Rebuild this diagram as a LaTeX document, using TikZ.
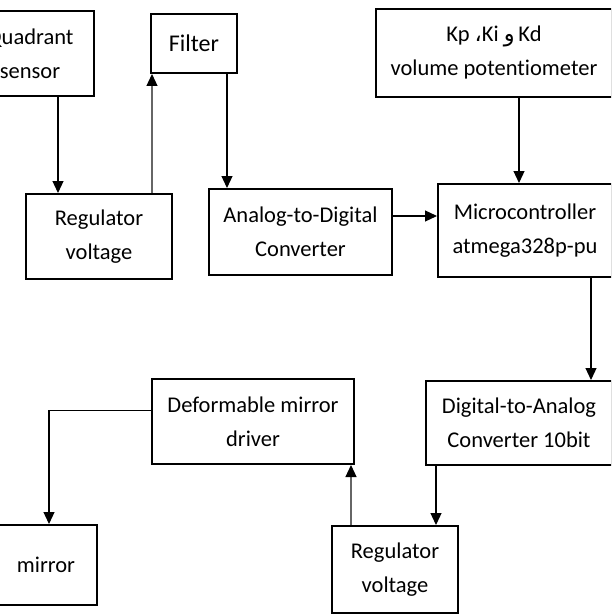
\documentclass[tikz,border=0pt]{standalone}
\usepackage{fontspec}
\setmainfont[Ligatures=NoCommon]{Carlito}
\newfontfamily\arabicfont[Script=Arabic]{DejaVu Sans}
\usetikzlibrary{arrows.meta}
\tikzset{blk/.style = {draw, line width=2pt, align=center, inner sep=0, font=\fontsize{22.5}{34}\selectfont}}
\tikzset{arr/.style = {line width=1.2pt, -{Triangle[width=11pt, length=12pt, color=black]}}}
\tikzset{arrg/.style = {arr, draw=black!60}}

\begin{document}
\begin{tikzpicture}[x=1pt, y=-1pt]
    \useasboundingbox (0, 0) rectangle (611, 615);
    \clip (0, 0) rectangle (611, 615);

    % upper row
    \node [blk, minimum width=128, minimum height=85] (quad) at (30, 53.5) {Quadrant\\sensor};
    \node [blk, minimum width=86, minimum height=59, font=\fontsize{24}{34}\selectfont] (filter) at (194, 43.5) {Filter};
    \node [blk, minimum width=236, minimum height=88] (kp) at (494, 53) {Kp {\arabicfont ،}Ki {\arabicfont و}\,Kd\\volume potentiometer};

    \node [blk, minimum width=146, minimum height=85] (reg1) at (99, 236.5) {Regulator\\voltage};
    \node [blk, minimum width=183, minimum height=86] (adc) at (300.5, 232) {Analog-to-Digital\\Converter};
    \node [blk, minimum width=174, minimum height=93] (mcu) at (525, 230.5) {Microcontroller\\atmega328p-pu};

    % lower row
    \node [blk, minimum width=202, minimum height=85] (dmd) at (253, 421.5) {Deformable mirror\\driver};
    \node [blk, minimum width=186, minimum height=84] (dac) at (519, 423) {Digital-to-Analog\\Converter 10bit};

    \node [blk, minimum width=102, minimum height=80] (mirror) at (46, 565) {mirror};
    \node [blk, minimum width=126, minimum height=87] (reg2) at (395, 569.5) {Regulator\\voltage};

    \draw [arr] ([xshift=28pt]quad.south) -- ([xshift=28pt]quad.south |- reg1.north);
    \draw [arrg] ([xshift=2pt]filter.south west |- reg1.north) -- ([xshift=2pt]filter.south west);
    \draw [arr] ([xshift=-11pt]filter.south east) -- ([xshift=-11pt]filter.south east |- adc.north);
    \draw [arr] ([yshift=16pt]adc.east) -- ([yshift=16pt]adc.east -| mcu.west);
    \draw [arr] ([xshift=25pt]kp.south) -- ([xshift=25pt]kp.south |- mcu.north);
    \draw [arr] ([xshift=66pt]mcu.south) -- ([xshift=66pt]mcu.south |- dac.north);
    \draw [arr] ([xshift=11pt]dac.south west) -- ([xshift=11pt]dac.south west |- reg2.north);
    \draw [arrg] ([xshift=-4pt]dmd.south east |- reg2.north) -- ([xshift=-4pt]dmd.south east);
    \draw [arr] ([yshift=11pt]dmd.west) -| ([xshift=3pt]mirror.north);
  \end{tikzpicture}
\end{document}
